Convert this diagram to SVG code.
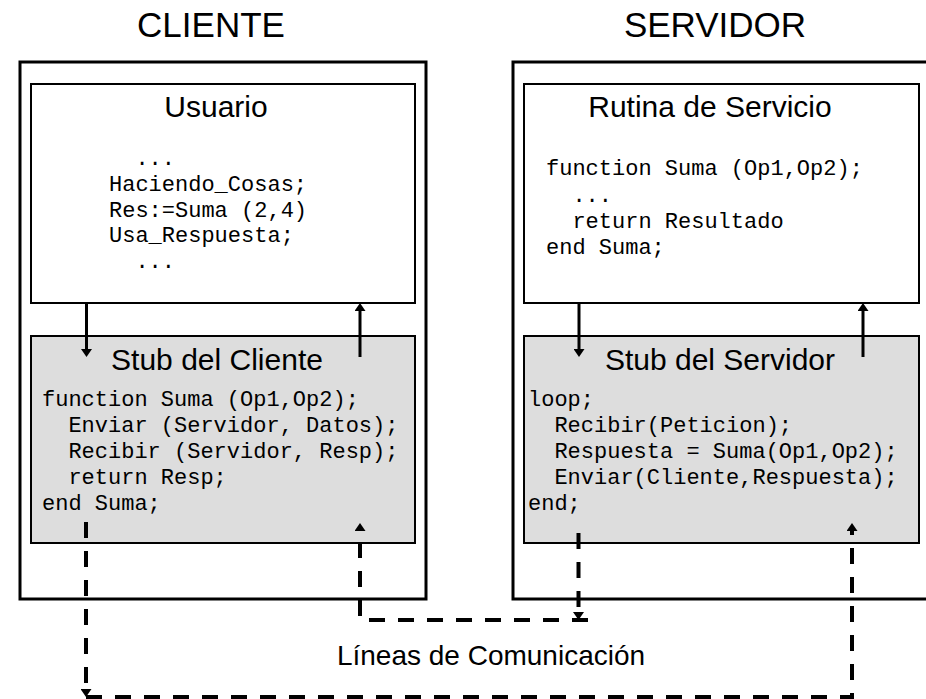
<svg xmlns="http://www.w3.org/2000/svg" width="926" height="699" viewBox="0 0 926 699">
<defs>
<style>
.outer{fill:#fff;stroke:#000;stroke-width:3}
.box{fill:#fff;stroke:#000;stroke-width:2}
.stub{fill:#dddddd;stroke:#000;stroke-width:2}
.head{font-family:"Liberation Sans",Arial,sans-serif;font-size:35px;fill:#000;text-anchor:middle}
.title{font-family:"Liberation Sans",Arial,sans-serif;font-size:30px;fill:#000;text-anchor:middle}
.label{font-family:"Liberation Sans",Arial,sans-serif;font-size:28px;fill:#000;text-anchor:middle}
.code{font-family:"Liberation Mono","Courier New",monospace;font-size:22px;fill:#000}
.solid{fill:none;stroke:#000;stroke-width:3;marker-end:url(#arr)}
.dash{fill:none;stroke:#000;stroke-width:4;stroke-dasharray:16 13;marker-end:url(#arr)}
</style>
<marker id="arr" viewBox="0 0 8 11" refX="0" refY="5.5" markerWidth="8" markerHeight="11" markerUnits="userSpaceOnUse" orient="auto">
<path d="M0,0 L8,5.5 L0,11 z" fill="#000"/>
</marker>
</defs>
<rect width="926" height="699" fill="#fff"/>

<g id="cliente">
<text class="head" x="211" y="37">CLIENTE</text>
<rect class="outer" x="20" y="62" width="406" height="537"/>
</g>

<g id="servidor">
<text class="head" x="715" y="37">SERVIDOR</text>
<rect class="outer" x="513" y="62" width="430" height="537"/>
</g>

<g id="usuario">
<rect class="box" x="31" y="84" width="384" height="219"/>
<text class="title" x="216" y="117">Usuario</text>
<text class="code" x="135.4" y="165">...</text>
<text class="code" x="109" y="191">Haciendo_Cosas;</text>
<text class="code" x="109" y="217">Res:=Suma (2,4)</text>
<text class="code" x="109" y="242">Usa_Respuesta;</text>
<text class="code" x="135.4" y="268">...</text>
</g>

<g id="rutina">
<rect class="box" x="524" y="84" width="395" height="219"/>
<text class="title" x="710" y="117">Rutina de Servicio</text>
<text class="code" x="546" y="175">function Suma (Op1,Op2);</text>
<text class="code" x="572.4" y="202">...</text>
<text class="code" x="572.4" y="228">return Resultado</text>
<text class="code" x="546" y="254">end Suma;</text>
</g>

<g id="stub-cliente">
<rect class="stub" x="31" y="336" width="384" height="207"/>
<text class="title" x="217" y="370">Stub del Cliente</text>
<text class="code" x="42" y="406">function Suma (Op1,Op2);</text>
<text class="code" x="68.4" y="432">Enviar (Servidor, Datos);</text>
<text class="code" x="68.4" y="458">Recibir (Servidor, Resp);</text>
<text class="code" x="68.4" y="484">return Resp;</text>
<text class="code" x="42" y="510">end Suma;</text>
</g>

<g id="stub-servidor">
<rect class="stub" x="524" y="336" width="395" height="207"/>
<text class="title" x="720" y="370">Stub del Servidor</text>
<text class="code" x="528" y="406">loop;</text>
<text class="code" x="554.4" y="432">Recibir(Peticion);</text>
<text class="code" x="554.4" y="458">Respuesta = Suma(Op1,Op2);</text>
<text class="code" x="554.4" y="484">Enviar(Cliente,Respuesta);</text>
<text class="code" x="528" y="510">end;</text>
</g>

<g id="connectors">
<path class="solid" d="M86.5,303 V349"/>
<path class="solid" d="M360,357 V311"/>
<path class="solid" d="M579,303 V349"/>
<path class="solid" d="M863,357 V311"/>
<path class="dash" d="M86,522 V689"/>
<path class="dash" d="M86,697 H852 V531"/>
<path class="dash" d="M578.5,533 V612"/>
<path class="dash" d="M588,620 H360 V531"/>
</g>

<g id="lineas">
<text class="label" x="491" y="665">Líneas de Comunicación</text>
</g>
</svg>
